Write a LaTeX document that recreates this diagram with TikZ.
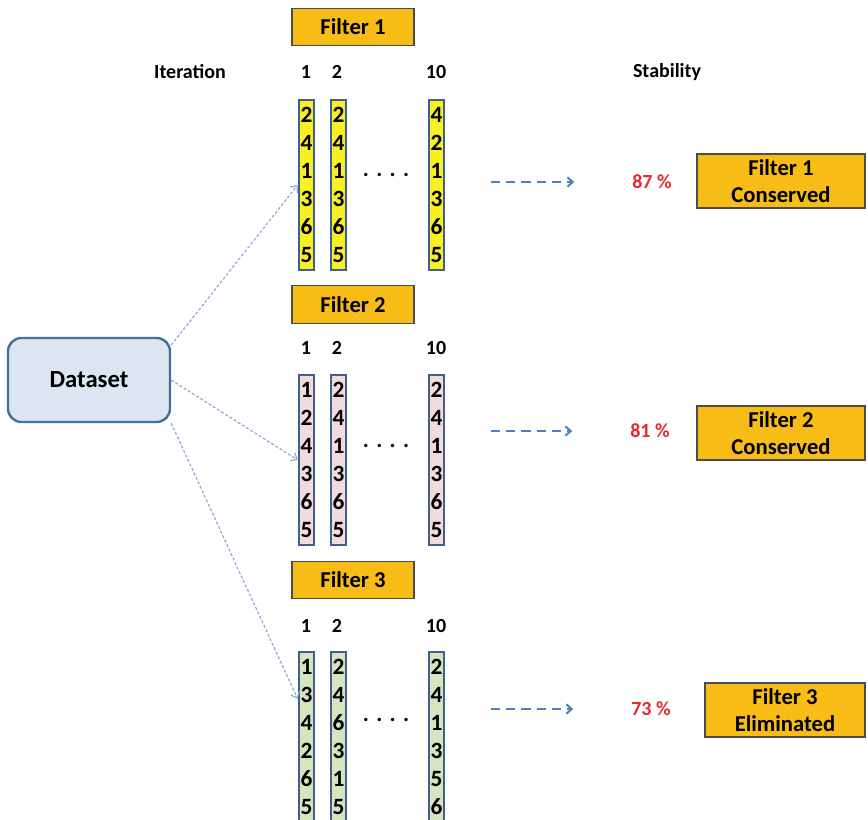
\documentclass[tikz,border=0pt]{standalone}
\usepackage{fontspec}
\setmainfont{Carlito}
\usepackage{xcolor}
\usetikzlibrary{arrows.meta,positioning}

\definecolor{hdrgold}{HTML}{F7BC16}
\definecolor{colblue}{HTML}{3F5F8F}
\definecolor{colyellow}{HTML}{F8F020}
\definecolor{colpink}{HTML}{F2DCDB}
\definecolor{colgreen}{HTML}{D7E4BD}
\definecolor{dsblue}{HTML}{41719C}
\definecolor{dsfill}{HTML}{DCE6F2}
\definecolor{feedblue}{HTML}{8EA9D6}
\definecolor{flowblue}{HTML}{4F81BD}
\definecolor{pctred}{HTML}{E32A2E}

\begin{document}
\begin{tikzpicture}[x=0.75pt,y=-0.75pt,>={Straight Barb[length=4pt,width=7pt]},
  hdr/.style={draw=black!70, fill=hdrgold, line width=0.8pt, inner sep=1pt,
    minimum width=91.5pt, minimum height=28pt, font=\fontsize{17}{20}\selectfont\bfseries},
  res/.style={hdr, align=center, minimum width=126pt, minimum height=40.5pt},
  col/.style={draw=colblue, line width=1.8pt, minimum width=11.5pt, minimum height=127.5pt,
    inner xsep=0pt, inner ysep=1pt, align=center, font=\fontsize{17.5}{21}\selectfont\bfseries},
  lbl/.style={font=\fontsize{15}{17}\selectfont\bfseries},
  pct/.style={lbl, text=pctred},
  dots/.style={font=\fontsize{17}{20}\selectfont\bfseries},
  feed/.style={->, draw=feedblue, line width=0.9pt, dash pattern=on 2.2pt off 1.5pt},
  flow/.style={->, draw=flowblue, line width=1.5pt, dash pattern=on 7pt off 4.5pt,
    shorten <=34pt, shorten >=40pt}]
\useasboundingbox (0,0) rectangle (868,820);

% headings
\node[lbl] (iter) at (190,72) {Iteration};
\node[lbl] (stab) at (667,72) {Stability};

% dataset
\node[draw=dsblue, fill=dsfill, line width=1.8pt, rounded corners=10pt,
  minimum width=121.5pt, minimum height=63pt,
  font=\fontsize{18.5}{20}\selectfont\bfseries] (ds) at (89,380) {Dataset};

% filter 1
\node[hdr] (f1) at (353,27) {Filter 1};
\node[lbl] (n11) at (306,72) {1};
\node[lbl] (n12) at (337,72) {2};
\node[lbl] (n1n) at (436,72) {10};
\node[col, fill=colyellow] (c11) at (306.5,185) {2\\4\\1\\3\\6\\5};
\node[col, fill=colyellow] (c12) at (338.5,185) {2\\4\\1\\3\\6\\5};
\node[col, fill=colyellow] (c1n) at (436.5,185) {4\\2\\1\\3\\6\\5};
\node[dots] (d1) at (386,175) {.\hspace{5.5pt}.\hspace{5.5pt}.\hspace{5.5pt}.};
\node[pct] (p1) at (652,182) {87 \%};
\node[res] (r1) at (781,181) {Filter 1\\Conserved};
\draw[flow] (c1n.east |- p1) -- (p1.west);

% filter 2
\node[hdr] (f2) at (353,304.5) {Filter 2};
\node[lbl] (n21) at (306,348) {1};
\node[lbl] (n22) at (337,348) {2};
\node[lbl] (n2n) at (436,348) {10};
\node[col, fill=colpink] (c21) at (306.5,460) {1\\2\\4\\3\\6\\5};
\node[col, fill=colpink] (c22) at (338.5,460) {2\\4\\1\\3\\6\\5};
\node[col, fill=colpink] (c2n) at (436.5,460) {2\\4\\1\\3\\6\\5};
\node[dots] (d2) at (386,446) {.\hspace{5.5pt}.\hspace{5.5pt}.\hspace{5.5pt}.};
\node[pct] (p2) at (650,431) {81 \%};
\node[res] (r2) at (781,433) {Filter 2\\Conserved};
\draw[flow] (c2n.east |- p2) -- (p2.west);

% filter 3
\node[hdr] (f3) at (353,580) {Filter 3};
\node[lbl] (n31) at (306,626) {1};
\node[lbl] (n32) at (337,626) {2};
\node[lbl] (n3n) at (436,626) {10};
\node[col, fill=colgreen] (c31) at (306.5,737) {1\\3\\4\\2\\6\\5};
\node[col, fill=colgreen] (c32) at (338.5,737) {2\\4\\6\\3\\1\\5};
\node[col, fill=colgreen] (c3n) at (436.5,737) {2\\4\\1\\3\\5\\6};
\node[dots] (d3) at (386,720) {.\hspace{5.5pt}.\hspace{5.5pt}.\hspace{5.5pt}.};
\node[pct] (p3) at (651,709) {73 \%};
\node[res, minimum width=120pt] (r3) at (785,710) {Filter 3\\Eliminated};
\draw[flow] (c3n.east |- p3) -- (p3.west);

% dataset to filters
\draw[feed] (ds.23) -- (c11.west);
\draw[feed] (ds.east) -- (c21.west);
\draw[feed] (ds.south east) -- ([yshift=-36pt]c31.north west);
\end{tikzpicture}
\end{document}
